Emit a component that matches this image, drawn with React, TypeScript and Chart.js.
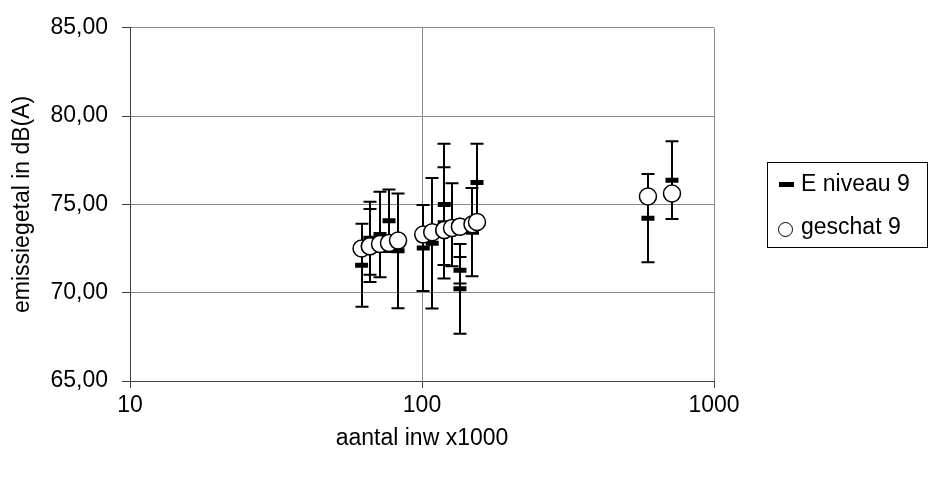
import React, { useEffect, useRef } from 'react';
import { Chart, registerables } from 'chart.js';

Chart.register(...registerables);

// population (x1000) per city
const populations = [62.1, 66.3, 66.3, 71.8, 77.1, 82.8, 101, 108.4, 119.2, 119.2, 126.7, 134.9, 134.9, 148.9, 154.3, 594, 718];
// measured emission level (E niveau 9)
const eNiveau = [71.56, 73.08, 72.67, 73.3, 74.07, 72.37, 72.53, 72.8, 75.0, 73.96, 73.85, 71.27, 70.22, 73.43, 76.24, 74.22, 76.37];
// error (+/-) of E niveau 9
const eError = [2.35, 2.07, 2.07, 2.42, 1.77, 3.25, 2.43, 3.7, 3.43, 3.15, 2.35, 0.75, 2.54, 2.5, 2.19, 2.5, 2.2];
// estimated value (geschat 9)
const geschat = [72.5, 72.63, 72.63, 72.76, 72.82, 72.95, 73.29, 73.42, 73.55, 73.55, 73.66, 73.74, 73.74, 73.88, 74.0, 75.45, 75.62];

const xTicks = [10, 100, 1000];
const yTicks = [65, 70, 75, 80, 85];

const FONT = "'Liberation Sans', Arial, sans-serif";

const errorBarPlugin = {
  id: 'errorBars',
  beforeDatasetsDraw(chart: any) {
    const { ctx } = chart;
    const x = chart.scales.x;
    const y = chart.scales.y;
    ctx.save();
    ctx.strokeStyle = '#000';
    ctx.lineWidth = 2;
    populations.forEach((p, i) => {
      const px = Math.round(x.getPixelForValue(p));
      const top = y.getPixelForValue(eNiveau[i] + eError[i]);
      const bot = y.getPixelForValue(eNiveau[i] - eError[i]);
      ctx.beginPath();
      ctx.moveTo(px, top);
      ctx.lineTo(px, bot);
      ctx.moveTo(px - 6.5, top);
      ctx.lineTo(px + 6.5, top);
      ctx.moveTo(px - 6.5, bot);
      ctx.lineTo(px + 6.5, bot);
      ctx.stroke();
    });
    ctx.restore();
  },
};

export default function App() {
  const canvasRef = useRef<HTMLCanvasElement | null>(null);

  useEffect(() => {
    if (!canvasRef.current) return;
    const chart = new Chart(canvasRef.current, {
      type: 'scatter',
      data: {
        datasets: [
          {
            label: 'E niveau 9',
            data: populations.map((p, i) => ({ x: p, y: eNiveau[i] })),
            pointStyle: 'line',
            pointRadius: 6.5,
            pointBorderWidth: 5,
            pointBorderColor: '#000',
            pointBackgroundColor: '#000',
            borderColor: '#000',
            backgroundColor: '#000',
            showLine: false,
            order: 2,
          },
          {
            label: 'geschat 9',
            data: populations.map((p, i) => ({ x: p, y: geschat[i] })),
            pointStyle: 'circle',
            pointRadius: 8.5,
            pointBorderWidth: 1.5,
            pointBackgroundColor: '#fff',
            pointBorderColor: '#000',
            borderColor: '#000',
            backgroundColor: '#fff',
            showLine: false,
            order: 1,
          },
        ],
      },
      options: {
        responsive: false,
        animation: false,
        events: [],
        layout: { padding: { top: 24, right: 214, bottom: 0, left: 0 } },
        plugins: {
          legend: { display: false },
          tooltip: { enabled: false },
        },
        scales: {
          x: {
            type: 'logarithmic',
            min: 10,
            max: 1000,
            afterBuildTicks: (s: any) => {
              s.ticks = xTicks.map((v) => ({ value: v }));
            },
            afterFit: (s: any) => {
              s.height = 97;
            },
            ticks: {
              color: '#000',
              font: { family: FONT, size: 23 },
              padding: 4,
              autoSkip: false,
              maxRotation: 0,
              callback: (v: any) => String(v),
            },
            grid: { color: '#888', lineWidth: 1, tickLength: 7, tickColor: '#404040' },
            border: { color: '#404040', width: 1 },
            title: {
              display: true,
              text: 'aantal inw x1000',
              color: '#000',
              font: { family: FONT, size: 23 },
              padding: { top: 0, bottom: 26 },
            },
          },
          y: {
            min: 65,
            max: 85,
            afterBuildTicks: (s: any) => {
              s.ticks = yTicks.map((v) => ({ value: v }));
            },
            afterFit: (s: any) => {
              s.width = 130;
            },
            ticks: {
              color: '#000',
              font: { family: FONT, size: 23 },
              padding: 14,
              callback: (v: any) => Number(v).toFixed(2).replace('.', ','),
            },
            grid: { color: '#888', lineWidth: 1, tickLength: 8, tickColor: '#404040' },
            border: { color: '#404040', width: 1 },
            title: {
              display: true,
              text: 'emissiegetal in dB(A)',
              color: '#000',
              font: { family: FONT, size: 23 },
              padding: { top: 9, bottom: 0 },
            },
          },
        },
      },
      plugins: [errorBarPlugin],
    } as any);
    return () => chart.destroy();
  }, []);

  const textStyle: React.CSSProperties = {
    position: 'absolute',
    left: 801,
    fontFamily: FONT,
    fontSize: 23,
    lineHeight: '23px',
    color: '#000',
    whiteSpace: 'nowrap',
  };

  return (
    <div style={{ position: 'fixed', left: 0, top: 0, width: 928, height: 478, background: '#fff' }}>
      <canvas ref={canvasRef} width={928} height={478} style={{ position: 'absolute', left: 0, top: 0 }} />
      <div
        style={{
          position: 'absolute',
          left: 767,
          top: 162,
          width: 159,
          height: 84,
          border: '1px solid #000',
          boxSizing: 'content-box',
        }}
      />
      <div style={{ position: 'absolute', left: 779, top: 182, width: 15, height: 5, background: '#000' }} />
      <div style={{ ...textStyle, top: 172 }}>E niveau 9</div>
      <div
        style={{
          position: 'absolute',
          left: 778,
          top: 222,
          width: 13,
          height: 13,
          borderRadius: '50%',
          border: '1px solid #000',
          background: '#fff',
        }}
      />
      <div style={{ ...textStyle, top: 215 }}>geschat 9</div>
    </div>
  );
}
